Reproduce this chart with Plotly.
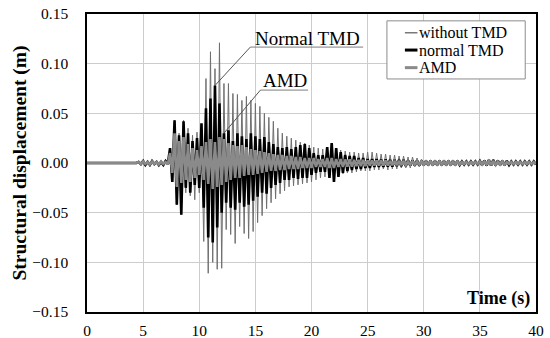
import numpy as np
import plotly.graph_objects as go

# Response of the structure (m) — one positive and one negative extremum per cycle.
# Cycle k peaks at CYCLE_START + k*CYCLE (positive) and half a cycle later (negative).
CYCLE_START = 4.6
CYCLE = 0.4

without_pos = [
    0.002, 0.003, 0.002, 0.003, 0.002, 0.002, 0.003,                     # 4.6-7.0
    0.015, 0.043, 0.030, 0.043, 0.035, 0.028, 0.031, 0.033,              # 7.4-10.2
    0.085, 0.112, 0.095, 0.121, 0.080, 0.080, 0.070, 0.069, 0.063, 0.067,  # 10.6-14.2
    0.063, 0.060, 0.057, 0.050, 0.046, 0.042, 0.035, 0.030, 0.027, 0.025,  # 14.6-18.2
    0.023, 0.021, 0.020, 0.018,                                          # 18.6-19.8
    0.016, 0.015, 0.014, 0.015, 0.016, 0.015,                            # 20.2-22.2
    0.013, 0.012, 0.011, 0.011, 0.010, 0.010, 0.011, 0.011, 0.010, 0.009,  # 22.6-26.2
    0.009, 0.008, 0.008, 0.007, 0.007, 0.006, 0.006, 0.005, 0.004,       # 26.6-29.8
    0.003, 0.003, 0.003, 0.003, 0.0025, 0.0025, 0.0025,                  # 30.2-32.6
    0.0025, 0.002, 0.002, 0.002, 0.002, 0.002, 0.0025, 0.003, 0.0035, 0.003,  # 33.0-36.6
    0.003, 0.0025, 0.002, 0.002, 0.0015, 0.0015, 0.0015, 0.0015,         # 37.0-39.8
]
without_neg = [
    -0.002, -0.002, -0.003, -0.002, -0.002, -0.003, -0.002,
    -0.019, -0.042, -0.052, -0.030, -0.033, -0.037, -0.030, -0.079,
    -0.111, -0.100, -0.107, -0.106, -0.067, -0.072, -0.081, -0.064, -0.071, -0.076,
    -0.069, -0.060, -0.053, -0.046, -0.040, -0.036, -0.031, -0.028, -0.024, -0.023,
    -0.022, -0.021, -0.020, -0.019,
    -0.017, -0.015, -0.014, -0.014, -0.014, -0.013,
    -0.011, -0.010, -0.010, -0.009, -0.008, -0.008, -0.008, -0.007, -0.007, -0.006,
    -0.007, -0.006, -0.006, -0.005, -0.005, -0.005, -0.004, -0.004, -0.003,
    -0.003, -0.0025, -0.0025, -0.0025, -0.002, -0.002, -0.002,
    -0.002, -0.002, -0.002, -0.002, -0.002, -0.002, -0.0025, -0.003, -0.003, -0.0025,
    -0.0025, -0.002, -0.002, -0.0015, -0.0015, -0.0015, -0.0015, -0.0015,
]

normal_pos = [
    0.001, 0.002, 0.001, 0.002, 0.001, 0.001, 0.002,
    0.015, 0.043, 0.028, 0.042, 0.030, 0.022, 0.025, 0.040,
    0.055, 0.065, 0.078, 0.060, 0.030, 0.033, 0.022, 0.030, 0.027, 0.024,
    0.030, 0.027, 0.024, 0.026, 0.021, 0.019, 0.016, 0.015, 0.016, 0.014,
    0.016, 0.018, 0.019, 0.015,
    0.010, 0.008, 0.008, 0.016, 0.020, 0.015,
    0.011, 0.008, 0.007, 0.007, 0.005, 0.005, 0.004, 0.004, 0.004, 0.0035,
    0.0035, 0.003, 0.003, 0.003, 0.003, 0.0025, 0.0025, 0.0025, 0.002,
    0.002, 0.002, 0.002, 0.002, 0.002, 0.002, 0.002,
    0.002, 0.0015, 0.0015, 0.0015, 0.0015, 0.002, 0.0025, 0.003, 0.003, 0.0025,
    0.002, 0.002, 0.0015, 0.0015, 0.0015, 0.0015, 0.0015, 0.0015,
]
normal_neg = [
    -0.001, -0.002, -0.002, -0.001, -0.002, -0.002, -0.001,
    -0.019, -0.042, -0.052, -0.025, -0.030, -0.022, -0.025, -0.045,
    -0.075, -0.080, -0.065, -0.050, -0.040, -0.045, -0.047, -0.040, -0.044, -0.042,
    -0.038, -0.034, -0.030, -0.031, -0.025, -0.022, -0.020, -0.017, -0.017, -0.015,
    -0.016, -0.015, -0.015, -0.012,
    -0.010, -0.009, -0.009, -0.015, -0.019, -0.014,
    -0.010, -0.008, -0.007, -0.006, -0.006, -0.005, -0.005, -0.004, -0.004, -0.004,
    -0.0035, -0.0035, -0.003, -0.003, -0.003, -0.0025, -0.0025, -0.0025, -0.002,
    -0.002, -0.002, -0.002, -0.002, -0.002, -0.002, -0.002,
    -0.002, -0.0015, -0.0015, -0.0015, -0.0015, -0.002, -0.0025, -0.0025, -0.0025, -0.002,
    -0.002, -0.002, -0.0015, -0.0015, -0.0015, -0.0015, -0.0015, -0.0015,
]

amd_pos = [
    0.001, 0.0015, 0.001, 0.0015, 0.001, 0.0015, 0.001,
    0.010, 0.030, 0.022, 0.026, 0.019, 0.015, 0.013, 0.017,
    0.021, 0.024, 0.021, 0.026, 0.024, 0.020, 0.018, 0.017, 0.018, 0.016,
    0.014, 0.013, 0.012, 0.011, 0.010, 0.009, 0.008, 0.008, 0.007, 0.007,
    0.006, 0.006, 0.005, 0.005,
    0.005, 0.004, 0.004, 0.005, 0.005, 0.004,
    0.004, 0.0035, 0.0035, 0.003, 0.003, 0.003, 0.0025, 0.0025, 0.0025, 0.0025,
    0.0025, 0.002, 0.002, 0.002, 0.002, 0.0015, 0.0015, 0.0015, 0.0015,
    0.0015, 0.0015, 0.0015, 0.0015, 0.0015, 0.0015, 0.0015,
    0.0015, 0.001, 0.001, 0.001, 0.001, 0.0015, 0.0015, 0.002, 0.002, 0.0015,
    0.0015, 0.001, 0.001, 0.001, 0.001, 0.001, 0.001, 0.001,
]
amd_neg = [
    -0.001, -0.001, -0.0015, -0.001, -0.0015, -0.001, -0.0015,
    -0.010, -0.024, -0.020, -0.017, -0.019, -0.015, -0.012, -0.017,
    -0.021, -0.026, -0.024, -0.022, -0.019, -0.017, -0.015, -0.015, -0.013, -0.012,
    -0.012, -0.011, -0.010, -0.009, -0.008, -0.008, -0.007, -0.007, -0.006, -0.006,
    -0.006, -0.005, -0.005, -0.005,
    -0.004, -0.004, -0.004, -0.005, -0.005, -0.004,
    -0.004, -0.0035, -0.0035, -0.003, -0.003, -0.003, -0.0025, -0.0025, -0.0025, -0.0025,
    -0.0025, -0.002, -0.002, -0.002, -0.002, -0.0015, -0.0015, -0.0015, -0.0015,
    -0.0015, -0.0015, -0.0015, -0.0015, -0.0015, -0.0015, -0.0015,
    -0.0015, -0.001, -0.001, -0.001, -0.001, -0.0015, -0.0015, -0.002, -0.002, -0.0015,
    -0.0015, -0.001, -0.001, -0.001, -0.001, -0.001, -0.001, -0.001,
]

x_ticks = [0, 5, 10, 15, 20, 25, 30, 35, 40]
y_ticks = [-0.15, -0.10, -0.05, 0.00, 0.05, 0.10, 0.15]

SERIF = "Liberation Serif, Times New Roman, serif"


def history(pos, neg):
    """Interleave the per-cycle extrema into a time history starting at rest."""
    n = min(len(pos), len(neg))
    t_pos = CYCLE_START + CYCLE * np.arange(n)
    t = [0.0, CYCLE_START - CYCLE / 2]
    y = [0.0, 0.0]
    for tp, p, q in zip(t_pos, pos[:n], neg[:n]):
        t += [tp, tp + CYCLE / 2]
        y += [p, q]
    return t, y


fig = go.Figure()
series = [
    ("without TMD", without_pos, without_neg, "#6f6f6f", 1.0),
    ("normal TMD", normal_pos, normal_neg, "#000000", 2.6),
    ("AMD", amd_pos, amd_neg, "#8a8a8a", 2.6),
]
for name, pos, neg, color, width in series:
    t, y = history(pos, neg)
    fig.add_trace(go.Scatter(x=t, y=y, mode="lines", name=name, showlegend=False,
                             line=dict(color=color, width=width)))

# callout labels with underline and leader line
nt_t, nt_v = CYCLE_START + CYCLE * 17, normal_pos[17]
amd_t, amd_v = CYCLE_START + CYCLE * 19, normal_pos[19]
shapes = [
    dict(type="line", x0=14.55, x1=24.6, y0=0.1167, y1=0.1167,
         line=dict(color="#7f7f7f", width=1)),
    dict(type="line", x0=14.55, y0=0.1167, x1=nt_t, y1=nt_v,
         line=dict(color="#555555", width=1)),
    dict(type="line", x0=15.45, x1=19.7, y0=0.0734, y1=0.0734,
         line=dict(color="#7f7f7f", width=1)),
    dict(type="line", x0=15.45, y0=0.0734, x1=amd_t, y1=amd_v,
         line=dict(color="#555555", width=1)),
]
annotations = [
    dict(x=19.6, y=0.1255, text="Normal TMD", showarrow=False,
         font=dict(family=SERIF, size=19, color="#000")),
    dict(x=17.6, y=0.0835, text="AMD", showarrow=False,
         font=dict(family=SERIF, size=19, color="#000")),
    dict(x=39.6, y=-0.136, text="<b>Time (s)</b>", showarrow=False,
         xanchor="right", font=dict(family=SERIF, size=18, color="#000")),
]

# legend box with short line keys (paper coordinates of the plot area)
LEG_X0, LEG_X1, LEG_Y0, LEG_Y1 = 0.668, 0.976, 0.782, 0.977
shapes.append(dict(type="rect", xref="paper", yref="paper",
                   x0=LEG_X0, x1=LEG_X1, y0=LEG_Y0, y1=LEG_Y1,
                   fillcolor="white", line=dict(color="#8c8c8c", width=1), layer="above"))
key_rows = [0.937, 0.879, 0.820]
for (name, _, _, color, width), ky in zip(series, key_rows):
    shapes.append(dict(type="line", xref="paper", yref="paper",
                       x0=0.708, x1=0.736, y0=ky, y1=ky, layer="above",
                       line=dict(color=color, width=width + 0.4)))
    annotations.append(dict(xref="paper", yref="paper", x=0.736, y=ky, text=name,
                            xanchor="left", yanchor="middle", showarrow=False,
                            font=dict(family=SERIF, size=16, color="#000")))

fig.update_layout(
    width=550, height=338,
    margin=dict(l=87, r=14, t=14, b=26),
    paper_bgcolor="white", plot_bgcolor="white",
    font=dict(family=SERIF, size=15, color="#000"),
    shapes=shapes, annotations=annotations,
    showlegend=False,
    xaxis=dict(range=[0, 40], tickvals=x_ticks, showgrid=True, automargin=False,
               gridcolor="#cdcdcd", gridwidth=1, zeroline=False,
               showline=True, linecolor="#000", linewidth=1.5, mirror=True,
               ticks="", ticklabelstandoff=4, tickfont=dict(family=SERIF, size=15.5)),
    yaxis=dict(range=[-0.15, 0.15], tickvals=y_ticks, tickformat=".2f",
               automargin=False, ticklabelstandoff=14,
               showgrid=True, gridcolor="#cdcdcd", gridwidth=1, zeroline=False,
               showline=True, linecolor="#000", linewidth=1.5, mirror=True,
               ticks="", tickfont=dict(family=SERIF, size=15.5),
               title=dict(text="<b>Structural displacement (m)</b>",
                          font=dict(family=SERIF, size=19.5), standoff=0)),
)

fig.write_html("out.html")
